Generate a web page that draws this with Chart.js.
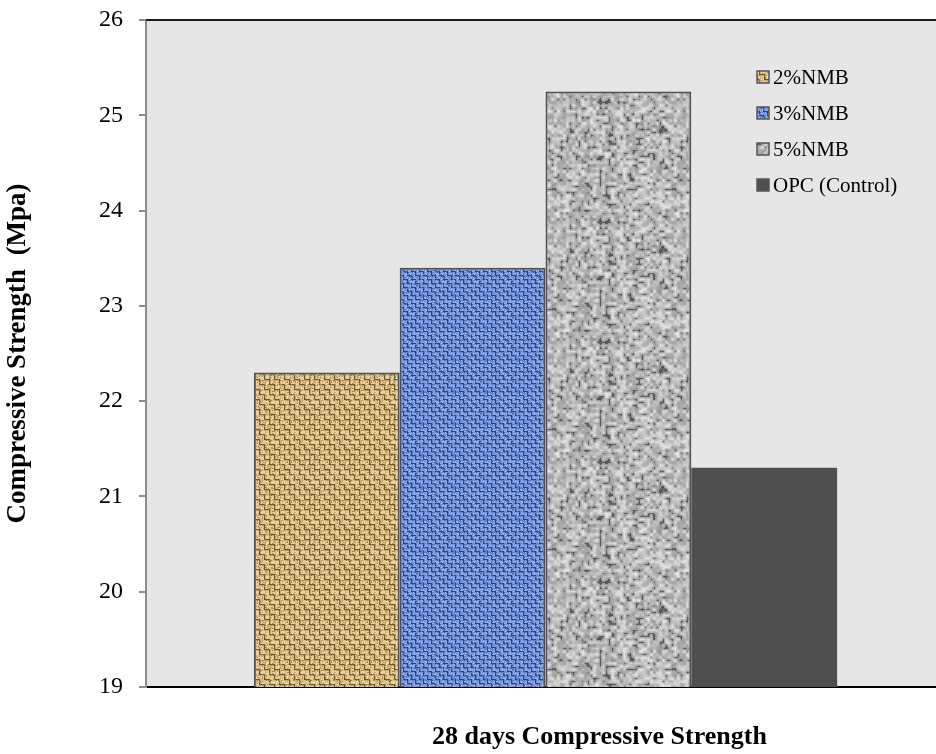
<!DOCTYPE html>
<html>
<head>
<meta charset="utf-8">
<title>28 days Compressive Strength</title>
<script src="https://cdn.jsdelivr.net/npm/chart.js@4/dist/chart.umd.min.js"></script>
<style>
  html, body { margin: 0; padding: 0; background: #ffffff; overflow: hidden; }
  body { width: 936px; height: 754px; position: relative; }
  #wrap { position: absolute; left: 0; top: 0; width: 945px; height: 754px; }
</style>
</head>
<body>
<div id="wrap"><canvas id="chart"></canvas></div>
<script>
// ---- data ----
const categories = ['28 days'];
const seriesLabels = ['2%NMB', '3%NMB', '5%NMB', 'OPC (Control)'];
const strength2NMB = [22.3];
const strength3NMB = [23.4];
const strength5NMB = [25.25];
const strengthOPC = [21.3];
const yTicks = [19, 20, 21, 22, 23, 24, 25, 26];
const xTitle = '28 days Compressive Strength';
const yTitle = 'Compressive Strength  (Mpa)';

// ---- deterministic texture helpers ----
function hash(x, y, s) {
  let h = (Math.imul(x, 374761393) + Math.imul(y, 668265263) + Math.imul(s, 1442695041)) | 0;
  h = Math.imul(h ^ (h >>> 13), 1274126177);
  h = h ^ (h >>> 16);
  return (h >>> 0) / 4294967295;
}
function makeTile(w, h, fn, blur) {
  const c = document.createElement('canvas');
  c.width = w; c.height = h;
  const g = c.getContext('2d');
  const img = g.createImageData(w, h);
  for (let y = 0; y < h; y++) {
    for (let x = 0; x < w; x++) {
      const [r, gg, b] = fn(x, y);
      const i = (y * w + x) * 4;
      img.data[i] = r; img.data[i + 1] = gg; img.data[i + 2] = b; img.data[i + 3] = 255;
    }
  }
  g.putImageData(img, 0, 0);
  if (!blur) return c;
  // soften the tile; draw it 3x3 so the blur wraps across tile edges
  const big = document.createElement('canvas');
  big.width = w * 3; big.height = h * 3;
  const bg = big.getContext('2d');
  for (let i = 0; i < 3; i++) for (let j = 0; j < 3; j++) bg.drawImage(c, i * w, j * h);
  const soft = document.createElement('canvas');
  soft.width = w * 3; soft.height = h * 3;
  const sg = soft.getContext('2d');
  sg.filter = 'blur(' + blur + 'px)';
  sg.drawImage(big, 0, 0);
  const out = document.createElement('canvas');
  out.width = w; out.height = h;
  out.getContext('2d').drawImage(soft, w, h, w, h, 0, 0, w, h);
  return out;
}
function mix(a, b, t) { return [0, 1, 2].map(k => Math.round(a[k] + (b[k] - a[k]) * t)); }

// basket weave: alternating blocks of horizontal and vertical threads
function weave(cell, light, mid, dark, seed, blur) {
  const n = cell * 4;
  return makeTile(n * 2, n * 2, (x, y) => {
    const bx = Math.floor(x / cell), by = Math.floor(y / cell);
    const horiz = ((bx + by) % 2) === 0;
    const p = horiz ? y % cell : x % cell;
    const q = horiz ? x % cell : y % cell;
    let col;
    if (p === cell - 1) col = dark;
    else if (p === 0) col = mix(light, mid, 0.5);
    else col = light;
    if (q === 0 && p !== cell - 1) col = mix(col, mid, 0.7);
    const j = hash(x, y, seed);
    if (j > 0.82) col = mix(col, dark, 0.5);
    else if (j < 0.12) col = mix(col, [255, 255, 255], 0.3);
    return col;
  }, blur);
}

// mottled stone texture built from smoothed hash noise
function granite(size, seed) {
  const grid = 3;
  const gw = Math.ceil(size / grid);
  const v = (gx, gy) => hash(((gx % gw) + gw) % gw, ((gy % gw) + gw) % gw, seed);
  return makeTile(size, size, (x, y) => {
    const fx = x / grid, fy = y / grid;
    const x0 = Math.floor(fx), y0 = Math.floor(fy);
    const tx = fx - x0, ty = fy - y0;
    const a = v(x0, y0), b = v(x0 + 1, y0), c = v(x0, y0 + 1), d = v(x0 + 1, y0 + 1);
    const n = (a * (1 - tx) + b * tx) * (1 - ty) + (c * (1 - tx) + d * tx) * ty;
    const fine = hash(x, y, seed + 7);
    let g = 182 + (n - 0.5) * 100 + (fine - 0.5) * 20;
    if (n < 0.18) g -= 50;
    g = Math.max(45, Math.min(238, Math.round(g)));
    return [g, g, g];
  }, 0.7);
}

const ctx = document.getElementById('chart').getContext('2d');
const fillTan = ctx.createPattern(weave(5, [230, 206, 150], [190, 158, 98], [116, 86, 36], 3, 0.6), 'repeat');
const fillBlue = ctx.createPattern(weave(4, [132, 165, 228], [90, 124, 200], [40, 66, 142], 5, 0.6), 'repeat');
const fillGray = ctx.createPattern(granite(120, 11), 'repeat');
const fillOPC = '#4f4f4f';

// ---- plot background, frame line, in-plot legend and category-axis title ----
const plotDecor = {
  id: 'plotDecor',
  beforeDraw(chart) {
    const { ctx, chartArea: a } = chart;
    ctx.save();
    ctx.fillStyle = '#e6e6e6';
    ctx.fillRect(a.left, a.top, a.right - a.left, a.bottom - a.top);
    ctx.restore();
  },
  afterDraw(chart, args, opts) {
    const { ctx, chartArea: a } = chart;
    ctx.save();
    ctx.strokeStyle = '#1a1a1a';
    ctx.lineWidth = 2;
    ctx.beginPath();
    ctx.moveTo(a.left, a.top);
    ctx.lineTo(a.right, a.top);
    ctx.stroke();

    // legend
    ctx.font = opts.font;
    ctx.textBaseline = 'middle';
    ctx.textAlign = 'left';
    chart.data.datasets.forEach((ds, i) => {
      const cy = opts.y + i * opts.step;
      ctx.fillStyle = ds.backgroundColor;
      ctx.fillRect(opts.x, cy - opts.box / 2, opts.box, opts.box);
      ctx.strokeStyle = '#555555';
      ctx.lineWidth = 1.5;
      ctx.strokeRect(opts.x, cy - opts.box / 2, opts.box, opts.box);
      ctx.fillStyle = '#000000';
      ctx.fillText(ds.label, opts.x + opts.box + 4, cy + 1);
    });

    // category-axis title
    ctx.font = opts.titleFont;
    ctx.fillStyle = '#000000';
    ctx.textAlign = 'left';
    ctx.textBaseline = 'middle';
    ctx.fillText(opts.titleText, opts.titleX, opts.titleY);
    ctx.restore();
  }
};

const serif = "'Liberation Serif', 'Times New Roman', serif";

new Chart(ctx, {
  type: 'bar',
  data: {
    labels: categories,
    datasets: [
      { label: seriesLabels[0], data: strength2NMB, backgroundColor: fillTan, borderColor: '#505050', borderWidth: 2 },
      { label: seriesLabels[1], data: strength3NMB, backgroundColor: fillBlue, borderColor: '#505050', borderWidth: 2 },
      { label: seriesLabels[2], data: strength5NMB, backgroundColor: fillGray, borderColor: '#505050', borderWidth: 2 },
      { label: seriesLabels[3], data: strengthOPC, backgroundColor: fillOPC, borderColor: '#4f4f4f', borderWidth: 0 }
    ]
  },
  options: {
    responsive: true,
    maintainAspectRatio: false,
    animation: false,
    events: [],
    layout: { padding: { top: 20, left: 0, right: 0, bottom: 0 } },
    datasets: { bar: { categoryPercentage: 0.73, barPercentage: 1.0, borderSkipped: 'start' } },
    plugins: {
      legend: { display: false },
      tooltip: { enabled: false },
      plotDecor: {
        x: 757, y: 77, step: 36, box: 12, font: "21px " + serif,
        titleText: xTitle, titleX: 432, titleY: 737, titleFont: "bold 26px " + serif
      }
    },
    scales: {
      x: {
        grid: { display: false },
        border: { display: true, color: '#000000', width: 2 },
        ticks: { display: false },
        title: { display: false },
        afterFit(scale) {
          scale.height = 67;
          scale.paddingLeft = 0; scale.paddingRight = 0;
        }
      },
      y: {
        min: yTicks[0],
        max: yTicks[yTicks.length - 1],
        afterBuildTicks(scale) { scale.ticks = yTicks.map(v => ({ value: v })); },
        grid: { drawOnChartArea: false, drawTicks: true, tickLength: 7, color: '#8c8c8c', lineWidth: 2 },
        border: { display: true, color: '#8c8c8c', width: 2 },
        ticks: {
          color: '#000000',
          padding: 16,
          font: { family: serif, size: 24 }
        },
        title: {
          display: true,
          text: yTitle,
          color: '#000000',
          font: { family: serif, size: 27, weight: 'bold' },
          padding: { top: 2, bottom: 0 }
        },
        afterFit(scale) {
          scale.width = 146;
          scale.paddingTop = 0; scale.paddingBottom = 0;
        }
      }
    }
  },
  plugins: [plotDecor]
});
</script>
</body>
</html>
